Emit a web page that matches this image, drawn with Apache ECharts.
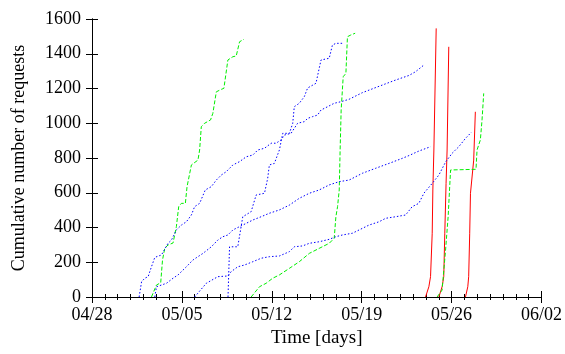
<!DOCTYPE html>
<html>
<head>
<meta charset="utf-8">
<script src="https://cdn.jsdelivr.net/npm/echarts@6/dist/echarts.min.js"></script>
<style>
html,body{margin:0;padding:0;background:#fff;}
#chart{width:565px;height:354px;}
</style>
</head>
<body>
<div id="chart"></div>
<script>
// x values are days since 04/28
var xTickLabels = ['04/28', '05/05', '05/12', '05/19', '05/26', '06/02'];

var greenADays   = [4.63, 5.02, 5.35, 5.49, 5.67, 5.92, 6.31, 6.57, 6.75, 6.96, 7.27, 7.40, 7.74, 8.25, 8.38, 8.51, 8.77, 9.23, 9.41, 9.68, 10.07, 10.27, 10.58, 10.97, 11.23, 11.49, 11.82];
var greenAValues = [0, 69, 82, 213, 282, 299, 311, 405, 520, 539, 539, 635, 760, 788, 846, 980, 1000, 1019, 1057, 1181, 1195, 1201, 1364, 1383, 1387, 1469, 1483];

var blueADays   = [3.67, 3.86, 4.11, 4.37, 4.63, 4.89, 5.41, 5.92, 6.19, 6.57, 6.96, 7.35, 7.74, 7.99, 8.38, 8.82, 9.29, 9.68, 10.07, 10.45, 10.97, 11.49, 12.01, 12.52, 12.91, 13.43, 13.95, 14.33, 14.72, 14.98, 15.50, 16.01, 16.53, 16.79, 17.17, 17.56, 17.83, 18.34, 18.86, 19.38, 20.02, 21.05, 22.61, 23.65, 24.68, 25.20, 25.84];
var blueAValues = [0, 88, 108, 117, 174, 228, 242, 309, 328, 386, 414, 433, 472, 520, 539, 616, 635, 673, 702, 721, 760, 779, 807, 817, 846, 856, 885, 885, 904, 932, 942, 1000, 1009, 1028, 1038, 1047, 1076, 1095, 1115, 1124, 1138, 1176, 1220, 1249, 1275, 1297, 1335];

var blueBDays   = [4.89, 5.02, 5.41, 5.80, 6.31, 6.70, 7.35, 7.86, 8.25, 8.64, 9.29, 9.80, 10.19, 10.58, 10.97, 11.49, 12.01, 12.52, 13.17, 13.81, 14.59, 15.37, 16.14, 16.92, 17.69, 18.47, 19.25, 20.02, 21.05, 22.09, 23.13, 24.16, 24.68, 25.45, 26.36];
var blueBValues = [0, 59, 69, 79, 108, 127, 174, 213, 232, 251, 289, 328, 347, 357, 386, 405, 424, 443, 462, 482, 501, 529, 568, 597, 616, 645, 664, 673, 712, 741, 769, 798, 814, 840, 865];

var blueCDays   = [7.99, 8.90, 9.80, 10.58, 10.84, 11.35, 11.87, 12.52, 13.17, 13.81, 14.59, 15.37, 15.75, 16.40, 16.92, 17.69, 18.47, 18.99, 19.50, 20.28, 20.80, 21.57, 22.35, 22.87, 23.65, 24.42, 24.93, 25.45, 25.84, 26.49, 27.01, 27.53, 28.04, 28.56, 29.08, 29.54];
var blueCValues = [0, 79, 117, 121, 146, 174, 184, 203, 223, 232, 236, 261, 289, 294, 309, 318, 332, 347, 357, 367, 386, 414, 433, 453, 462, 472, 520, 539, 597, 654, 702, 777, 827, 865, 913, 948];

var blueDDays   = [10.59, 10.71, 11.35, 11.74, 12.39, 12.78, 13.43, 13.68, 13.81, 14.20, 14.59, 14.85, 15.37, 15.63, 15.75, 16.14, 16.53, 16.79, 17.44, 17.83, 18.47, 18.72, 18.99, 19.50];
var blueDValues = [0, 289, 289, 462, 491, 587, 597, 683, 760, 769, 846, 942, 942, 1000, 1095, 1115, 1153, 1203, 1230, 1364, 1374, 1450, 1460, 1460];

var greenBDays   = [12.39, 13.04, 13.56, 14.07, 14.59, 15.37, 16.14, 16.92, 17.69, 18.47, 18.86, 18.99, 19.12, 19.25, 19.32, 19.40, 19.56, 19.77, 19.89, 20.15, 20.49];
var greenBValues = [0, 59, 79, 108, 127, 165, 203, 251, 280, 309, 338, 462, 520, 616, 846, 1076, 1268, 1287, 1498, 1508, 1518];

var greenCDays   = [26.87, 27.26, 27.53, 27.73, 27.92, 28.04, 29.90, 29.98, 30.24, 30.37, 30.50];
var greenCValues = [0, 40, 270, 462, 731, 735, 735, 846, 904, 1019, 1172];

var redADays   = [25.97, 26.23, 26.36, 26.49, 26.54, 26.62, 26.80];
var redAValues = [0, 59, 117, 367, 616, 846, 1546];

var redBDays   = [27.01, 27.26, 27.39, 27.47, 27.57, 27.65, 27.78];
var redBValues = [0, 59, 117, 367, 654, 846, 1440];

var redCDays   = [29.08, 29.26, 29.33, 29.41, 29.47, 29.59, 29.72, 29.85];
var redCValues = [0, 59, 117, 367, 597, 606, 788, 1066];

function pairs(xs, ys) {
  var out = [];
  for (var i = 0; i < xs.length; i++) out.push([xs[i], ys[i]]);
  return out;
}

var FONT = '"Liberation Serif", "DejaVu Serif", serif';
var BLUE = '#0000ff', GREEN = '#00ee00', RED = '#ff0000';
var blueStyle = {color: BLUE, width: 1, type: [1.5, 2]};
var greenStyle = {color: GREEN, width: 1, type: [4, 2]};
var redStyle = {color: RED, width: 1, type: 'solid'};

function mk(xs, ys, style) {
  return {
    type: 'line', data: pairs(xs, ys), showSymbol: false, symbol: 'none',
    lineStyle: style, itemStyle: {color: style.color}, animation: false,
    xAxisIndex: 0, yAxisIndex: 0
  };
}

var axisLineStyle = {show: true, lineStyle: {color: '#000', width: 1}};

var chart = echarts.init(document.getElementById('chart'), null, {renderer: 'canvas'});
chart.setOption({
  animation: false,
  backgroundColor: '#fff',
  grid: {left: 92, right: 22, top: 19, bottom: 57, containLabel: false},
  xAxis: [{
    type: 'value', min: 0, max: 35, interval: 7, position: 'bottom',
    axisLine: axisLineStyle,
    axisTick: {show: true, inside: true, length: 6, lineStyle: {color: '#000'}},
    minorTick: {show: true, splitNumber: 7, length: 3, lineStyle: {color: '#000'}},
    splitLine: {show: false},
    axisLabel: {
      color: '#000', fontFamily: FONT, fontSize: 18, margin: 9,
      formatter: function (v) { return xTickLabels[Math.round(v / 7)] || ''; }
    },
    name: 'Time [days]', nameLocation: 'middle', nameGap: 32,
    nameTextStyle: {color: '#000', fontFamily: FONT, fontSize: 19}
  }, {
    type: 'value', min: 0, max: 35, interval: 7, position: 'top',
    axisLine: axisLineStyle,
    axisTick: {show: true, inside: true, length: 6, lineStyle: {color: '#000'}},
    minorTick: {show: true, splitNumber: 7, length: 3, lineStyle: {color: '#000'}},
    splitLine: {show: false},
    axisLabel: {show: false}
  }],
  yAxis: [{
    type: 'value', min: 0, max: 1600, interval: 200, position: 'left',
    axisLine: axisLineStyle,
    axisTick: {show: true, inside: true, length: 6, lineStyle: {color: '#000'}},
    splitLine: {show: false},
    axisLabel: {color: '#000', fontFamily: FONT, fontSize: 18, margin: 11,
      formatter: function (v) { return String(v); }},
    name: 'Cumulative number of requests', nameLocation: 'middle', nameGap: 64, nameRotate: 90,
    nameTextStyle: {color: '#000', fontFamily: FONT, fontSize: 18}
  }, {
    type: 'value', min: 0, max: 1600, interval: 200, position: 'right',
    axisLine: axisLineStyle,
    axisTick: {show: true, inside: true, length: 6, lineStyle: {color: '#000'}},
    splitLine: {show: false},
    axisLabel: {show: false}
  }],
  series: [
    mk(redADays, redAValues, redStyle),
    mk(redBDays, redBValues, redStyle),
    mk(redCDays, redCValues, redStyle),
    mk(greenADays, greenAValues, greenStyle),
    mk(greenBDays, greenBValues, greenStyle),
    mk(greenCDays, greenCValues, greenStyle),
    mk(blueADays, blueAValues, blueStyle),
    mk(blueBDays, blueBValues, blueStyle),
    mk(blueCDays, blueCValues, blueStyle),
    mk(blueDDays, blueDValues, blueStyle)
  ]
});
</script>
</body>
</html>
